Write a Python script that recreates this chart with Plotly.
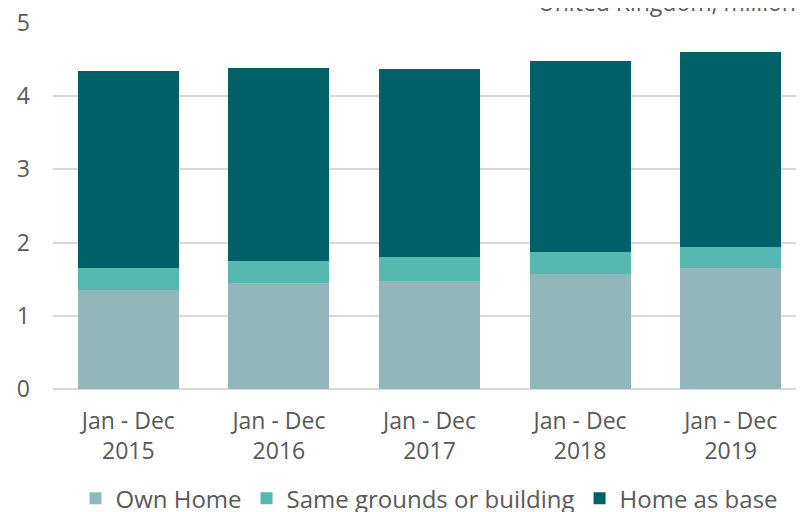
import plotly.graph_objects as go

categories = ["Jan - Dec<br>2015", "Jan - Dec<br>2016", "Jan - Dec<br>2017", "Jan - Dec<br>2018", "Jan - Dec<br>2019"]
own_home = [1.35, 1.45, 1.48, 1.565, 1.655]
same_grounds = [0.30, 0.305, 0.32, 0.305, 0.29]
home_as_base = [2.70, 2.63, 2.57, 2.61, 2.665]
y_ticks = [0, 1, 2, 3, 4, 5]

FONT = "Open Sans"
TXT = "#595959"

fig = go.Figure()
fig.add_bar(x=categories, y=own_home, name="Own Home", marker=dict(color="#93b6bb", line=dict(width=0)))
fig.add_bar(x=categories, y=same_grounds, name="Same grounds or building", marker=dict(color="#57b7b1", line=dict(width=0)))
fig.add_bar(x=categories, y=home_as_base, name="Home as base", marker=dict(color="#006068", line=dict(width=0)))

fig.update_layout(
    width=804, height=512,
    barmode="stack", bargap=0.33,
    margin=dict(l=45, r=6, t=15, b=131, autoexpand=False),
    plot_bgcolor="white", paper_bgcolor="white",
    font=dict(family=FONT, size=23, color=TXT),
    showlegend=True,
    legend=dict(orientation="h", x=0.5, xanchor="center", y=-0.238, yanchor="top",
                font=dict(size=24, color=TXT), traceorder="normal"),
    xaxis=dict(showgrid=False, showline=False, ticks="", tickfont=dict(size=23, color=TXT),
               ticklabelstandoff=16, ticklabeloverflow="allow"),
    yaxis=dict(range=[0, 5], tickvals=y_ticks, showgrid=True, gridcolor="#d9d9d9", gridwidth=1.5,
               zeroline=True, zerolinecolor="#d9d9d9", zerolinewidth=2,
               showline=False, ticks="", tickfont=dict(size=23, color=TXT), ticklabelstandoff=22,
               ticklabeloverflow="allow"),
    annotations=[dict(text="United Kingdom, millions", xref="paper", yref="paper", x=0.642, y=1.009,
                      xanchor="left", yanchor="bottom", showarrow=False,
                      font=dict(size=23, color=TXT, family=FONT))],
)

fig.write_html("out.html")
